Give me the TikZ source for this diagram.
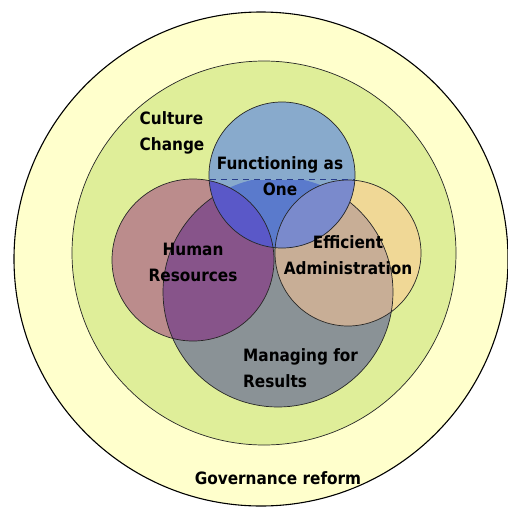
\documentclass[tikz,border=0pt]{standalone}
\usepackage{fontspec}
\newfontfamily\lblfont{DejaVuSansCondensed-Bold.ttf}
\definecolor{cyel}{HTML}{FFFFCC}
\definecolor{cgrn}{HTML}{DFEE99}
\definecolor{cgray}{HTML}{8A9296}
\definecolor{cred}{HTML}{BB8C8C}
\definecolor{cpurp}{HTML}{87548A}
\definecolor{corg}{HTML}{F0D896}
\definecolor{corgg}{HTML}{C8AE96}
\definecolor{cblue}{HTML}{88AACC}
\definecolor{cbluegray}{HTML}{5A7ACC}
\definecolor{cbluered}{HTML}{5A58C8}
\definecolor{cblueorg}{HTML}{7A8ACC}
\newcommand\pOuter{(261,259) circle[radius=247]}
\newcommand\pGreen{(264,253) circle[radius=192]}
\newcommand\pGray{(278,292) circle[radius=115]}
\newcommand\pRed{(193,260) circle[radius=81]}
\newcommand\pOrg{(348,253) circle[radius=73]}
\newcommand\pBlue{(282,175) circle[radius=73]}
\newcommand\pLow{(0,180) rectangle (507,509)}
\begin{document}
\begin{tikzpicture}[x=1pt,y=-1pt,
  outl/.style={draw=black!85, line width=0.7pt},
  lbl/.style={font=\lblfont\fontsize{17}{26}\selectfont, inner sep=0pt, text=black}]
\useasboundingbox (0,0) rectangle (507,509);
% outer rings
\fill[cyel] \pOuter;
\draw[black, line width=1.1pt] \pOuter;
\fill[cgrn] \pGreen;
\draw[outl] \pGreen;
% gray circle (clipped at top)
\begin{scope}
  \clip \pLow;
  \fill[cgray] \pGray;
  \draw[outl] \pGray;
\end{scope}
% red and its overlap with gray
\fill[cred] \pRed;
\begin{scope}
  \clip \pRed;
  \begin{scope}\clip \pLow; \fill[cpurp] \pGray; \draw[outl] \pGray; \end{scope}
\end{scope}
% orange and its overlap with gray
\fill[corg] \pOrg;
\begin{scope}
  \clip \pOrg;
  \begin{scope}\clip \pLow; \fill[corgg] \pGray; \draw[outl] \pGray; \end{scope}
\end{scope}
\draw[outl] \pRed;
\draw[outl] \pOrg;
% blue and overlaps
\fill[cblue] \pBlue;
\begin{scope}
  \clip \pBlue;
  \begin{scope}\clip \pLow; \fill[cbluegray] \pGray; \end{scope}
  \fill[cbluered] \pRed;
  \fill[cblueorg] \pOrg;
  \draw[outl] \pRed;
  \draw[outl] \pOrg;
  \draw[color={rgb,255:red,40;green,60;blue,140}, line width=0.8pt, dash pattern=on 6pt off 5pt] (210,179.5) -- (355,179.5);
\end{scope}
\draw[outl] \pBlue;
% labels
\node[lbl, align=left] (culture) at (172,133) {Culture\\Change};
\node[lbl, align=center] (func) at (280,176) {Functioning as\\One};
\node[lbl, align=center] (hr) at (193,262) {Human\\Resources};
\node[lbl, align=center] (ea) at (348,255) {Efficient\\Administration};
\node[lbl, align=left, anchor=west] (mfr) at (243,368) {Managing for\\Results};
\node[lbl] (gov) at (278,478) {Governance reform};
\end{tikzpicture}
\end{document}
